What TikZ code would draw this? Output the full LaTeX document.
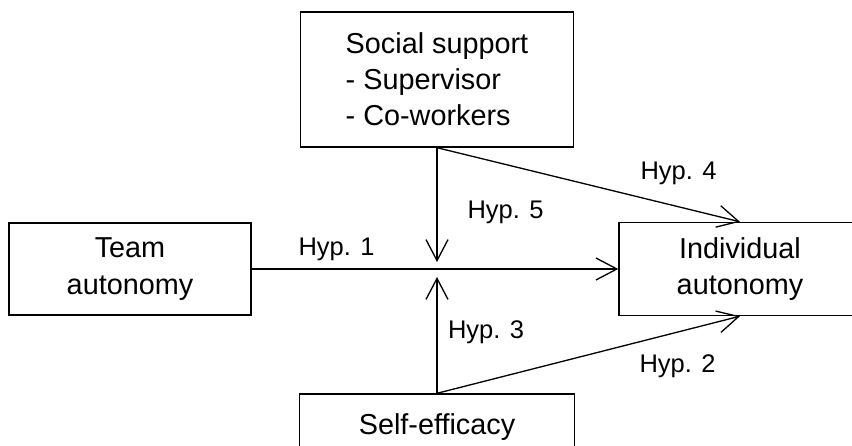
\documentclass[tikz,border=0pt]{standalone}
\usepackage{fontspec}
\setmainfont{Liberation Sans}
\usepackage{tikz}
\usetikzlibrary{positioning,arrows.meta}
\tikzstyle{arrow} = [->,>={Straight Barb[length=0.42cm,width=0.44cm]}]

\begin{document}
\begin{tikzpicture}[
    x=0.02cm, y=-0.02cm,
    font=\fontsize{16.4pt}{20.6pt}\selectfont,
    line width=0.75pt,
    block/.style={
        draw,
        line width=0.8pt,
        inner sep=0pt,
        align=center
    },
    hyp/.style={font=\fontsize{14.5pt}{17pt}\selectfont, anchor=base, inner sep=0pt}
]
\useasboundingbox (0,0) rectangle (852,446);
\clip (0,0) rectangle (852,446);

\node[block, minimum width=5.46cm, minimum height=2.7cm, align=left] (social)
    at (437,79.5) {Social support\\- Supervisor\\- Co-workers};
\node[block, minimum width=4.84cm, minimum height=1.84cm] (team)
    at (130,269) {Team\\autonomy};
\node[block, minimum width=4.84cm, minimum height=1.86cm] (indiv)
    at (740,269) {Individual\\autonomy};
\node[block, minimum width=5.5cm, minimum height=1.32cm] (self)
    at (437,427) {Self-efficacy};

% the two moderating arrows stop just short of the main path
\coordinate (dntip) at (437,262);
\coordinate (uptip) at (437,277);

\draw[arrow] (team) -- (indiv);
\draw[arrow] (social) -- (dntip);
\draw[arrow] (self) -- (uptip);
\draw[arrow] (social.south) -- (indiv.north);
\draw[arrow] (self.north) -- (indiv.south);

\node[hyp] (hyp1) at (336.5,255) {Hyp. 1};
\node[hyp] (hyp5) at (505.5,218) {Hyp. 5};
\node[hyp] (hyp4) at (678.5,179) {Hyp. 4};
\node[hyp] (hyp3) at (486,338) {Hyp. 3};
\node[hyp] (hyp2) at (677.5,372) {Hyp. 2};

\end{tikzpicture}
\end{document}
